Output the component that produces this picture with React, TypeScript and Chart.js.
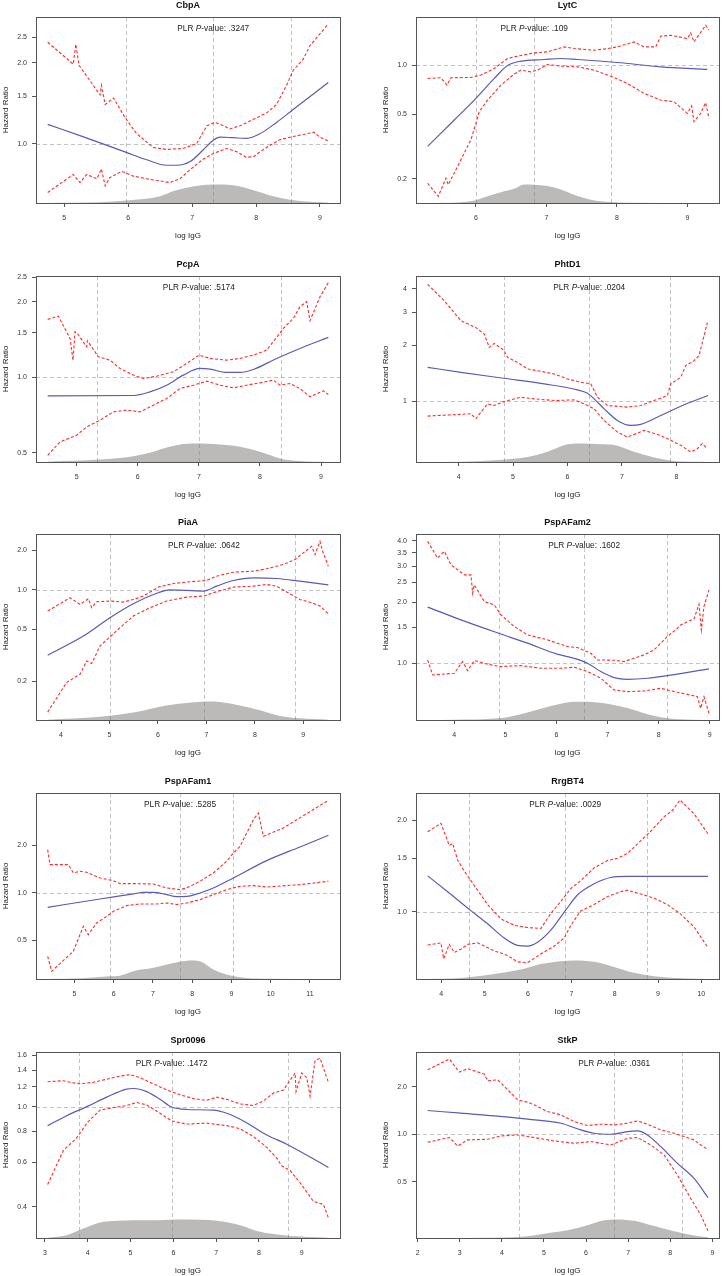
import { useEffect, useRef } from 'react';
import { Chart, registerables } from 'chart.js';

Chart.register(...registerables);

type Pt = [number, number];

const FAMILY = '"Liberation Sans", Arial, Helvetica, sans-serif';

// ---------- shared labels ----------
const panelNames = ['CbpA', 'LytC', 'PcpA', 'PhtD1', 'PiaA', 'PspAFam2', 'PspAFam1', 'RrgBT4', 'Spr0096', 'StkP'];
const pValues = ['.3247', '.109', '.5174', '.0204', '.0642', '.1602', '.5285', '.0029', '.1472', '.0361'];
const xTitle = 'log IgG';
const yTitle = 'Hazard Ratio';

// ---------- CbpA ----------
const cbpaXRange: Pt = [4.557, 9.313];
const cbpaYRange: Pt = [0.6225, 2.97];
const cbpaXTicks = [5, 6, 7, 8, 9];
const cbpaYTicks = [1.0, 1.5, 2.0, 2.5];
const cbpaRef = [5.966, 7.33, 8.54];
const cbpaFit: Pt[] = [[4.74, 1.18], [5.3, 1.06], [5.98, 0.925], [6.29, 0.87], [6.6, 0.83], [6.76, 0.83], [6.97, 0.857], [7.17, 0.946], [7.33, 1.03], [7.44, 1.057], [7.64, 1.052], [7.85, 1.046], [8.06, 1.088], [8.32, 1.2], [8.58, 1.34], [9.13, 1.69]];
const cbpaUpper: Pt[] = [[4.74, 2.39], [5.14, 1.98], [5.18, 2.35], [5.23, 1.96], [5.56, 1.52], [5.58, 1.65], [5.64, 1.4], [5.77, 1.48], [5.95, 1.25], [6.13, 1.09], [6.39, 0.967], [6.6, 0.951], [6.86, 0.959], [7.07, 1.0], [7.23, 1.166], [7.36, 1.2], [7.49, 1.166], [7.59, 1.134], [7.75, 1.166], [7.96, 1.233], [8.17, 1.304], [8.32, 1.4], [8.48, 1.655], [8.58, 1.876], [8.74, 2.07], [8.84, 2.315], [9.13, 2.8]];
const cbpaLower: Pt[] = [[4.74, 0.657], [5.14, 0.767], [5.245, 0.715], [5.35, 0.767], [5.51, 0.739], [5.58, 0.804], [5.64, 0.695], [5.71, 0.746], [5.9, 0.788], [6.08, 0.756], [6.29, 0.739], [6.5, 0.725], [6.65, 0.715], [6.81, 0.739], [6.97, 0.8], [7.17, 0.874], [7.33, 0.919], [7.54, 0.959], [7.7, 0.932], [7.85, 0.889], [7.96, 0.894], [8.06, 0.932], [8.22, 0.986], [8.37, 1.034], [8.58, 1.063], [8.74, 1.081], [8.9, 1.103], [9.0, 1.057], [9.13, 1.023]];
const cbpaDens: Pt[] = [[4.74, 0], [5.56, 0.04], [5.98, 0.13], [6.5, 0.36], [6.71, 0.64], [6.91, 0.82], [7.33, 1.0], [7.64, 0.96], [7.96, 0.69], [8.27, 0.36], [8.53, 0.18], [8.9, 0.05], [9.13, 0.02]];

// ---------- LytC ----------
const lytcXRange: Pt = [5.15, 9.449];
const lytcYRange: Pt = [0.142, 1.99];
const lytcXTicks = [6, 7, 8, 9];
const lytcYTicks = [0.2, 0.5, 1.0];
const lytcRef = [6.0, 6.827, 7.923];
const lytcFit: Pt[] = [[5.315, 0.317], [5.693, 0.461], [6.0, 0.627], [6.26, 0.832], [6.449, 1.0], [6.638, 1.063], [6.968, 1.089], [7.205, 1.104], [7.441, 1.089], [8.008, 1.043], [8.622, 0.981], [9.283, 0.945]];
const lytcUpper: Pt[] = [[5.315, 0.832], [5.504, 0.84], [5.589, 0.757], [5.646, 0.84], [5.929, 0.844], [6.0, 0.86], [6.071, 0.873], [6.26, 0.958], [6.449, 1.104], [6.59, 1.141], [6.827, 1.196], [7.016, 1.213], [7.252, 1.302], [7.393, 1.272], [7.677, 1.242], [7.866, 1.272], [8.008, 1.302], [8.244, 1.397], [8.385, 1.302], [8.551, 1.302], [8.622, 1.514], [8.763, 1.536], [9.0, 1.465], [9.047, 1.588], [9.094, 1.397], [9.259, 1.769], [9.307, 1.648]];
const lytcLower: Pt[] = [[5.315, 0.188], [5.466, 0.156], [5.575, 0.202], [5.608, 0.184], [5.787, 0.262], [5.929, 0.348], [6.0, 0.44], [6.047, 0.519], [6.165, 0.612], [6.354, 0.757], [6.543, 0.885], [6.638, 0.936], [6.779, 0.914], [6.874, 0.936], [7.016, 1.014], [7.205, 0.991], [7.441, 0.981], [7.677, 0.936], [7.96, 0.844], [8.149, 0.775], [8.385, 0.673], [8.622, 0.612], [8.811, 0.598], [9.0, 0.507], [9.061, 0.563], [9.094, 0.451], [9.189, 0.507], [9.259, 0.59], [9.307, 0.472]];
const lytcDens: Pt[] = [[5.315, 0], [5.787, 0.04], [6.0, 0.15], [6.165, 0.36], [6.354, 0.58], [6.543, 0.76], [6.685, 1.0], [6.827, 0.98], [7.016, 0.91], [7.205, 0.73], [7.393, 0.45], [7.63, 0.18], [7.913, 0.05], [8.149, 0.02], [9.283, 0]];

// ---------- PcpA ----------
const pcpaXRange: Pt = [4.334, 9.311];
const pcpaYRange: Pt = [0.459, 2.53];
const pcpaXTicks = [5, 6, 7, 8, 9];
const pcpaYTicks = [0.5, 1.0, 1.5, 2.0, 2.5];
const pcpaRef = [5.338, 7.0, 8.345];
const pcpaFit: Pt[] = [[4.525, 0.842], [5.928, 0.845], [6.2, 0.874], [6.473, 0.929], [6.746, 1.019], [7.019, 1.083], [7.183, 1.076], [7.456, 1.044], [7.674, 1.044], [7.892, 1.073], [8.274, 1.187], [8.656, 1.301], [9.12, 1.44]];
const pcpaUpper: Pt[] = [[4.525, 1.699], [4.7, 1.751], [4.891, 1.427], [4.94, 1.169], [4.973, 1.517], [5.011, 1.493], [5.164, 1.321], [5.175, 1.397], [5.355, 1.206], [5.546, 1.169], [5.709, 1.083], [5.928, 1.019], [6.091, 0.988], [6.31, 1.009], [6.583, 1.05], [6.801, 1.134], [7.003, 1.224], [7.183, 1.187], [7.456, 1.169], [7.674, 1.187], [7.892, 1.224], [8.11, 1.282], [8.274, 1.44], [8.383, 1.564], [8.547, 1.714], [8.656, 1.909], [8.765, 2.0], [8.82, 1.679], [8.984, 2.093], [9.12, 2.379]];
const pcpaLower: Pt[] = [[4.525, 0.488], [4.727, 0.552], [5.0, 0.587], [5.164, 0.634], [5.382, 0.674], [5.6, 0.727], [5.819, 0.739], [6.037, 0.727], [6.255, 0.773], [6.473, 0.822], [6.692, 0.901], [6.91, 0.929], [7.128, 0.964], [7.347, 0.929], [7.565, 0.906], [7.783, 0.929], [8.001, 0.949], [8.22, 0.973], [8.329, 0.929], [8.493, 0.943], [8.656, 0.901], [8.82, 0.835], [9.038, 0.882], [9.12, 0.853]];
const pcpaDens: Pt[] = [[4.525, 0.02], [5.382, 0.13], [5.928, 0.31], [6.255, 0.55], [6.473, 0.78], [6.801, 0.98], [7.019, 1.0], [7.456, 0.91], [7.674, 0.82], [8.001, 0.55], [8.345, 0.18], [8.656, 0.05], [9.12, 0]];

// ---------- PhtD1 ----------
const phtXRange: Pt = [3.217, 8.783];
const phtYRange: Pt = [0.472, 4.69];
const phtXTicks = [4, 5, 6, 7, 8];
const phtYTicks = [1, 2, 3, 4];
const phtRef = [4.826, 6.398, 7.878];
const phtFit: Pt[] = [[3.431, 1.519], [4.043, 1.428], [4.826, 1.327], [5.572, 1.238], [6.183, 1.15], [6.367, 1.103], [6.489, 1.029], [6.673, 0.91], [6.917, 0.788], [7.162, 0.741], [7.346, 0.751], [7.713, 0.838], [8.08, 0.94], [8.581, 1.072]];
const phtUpper: Pt[] = [[3.431, 4.23], [3.737, 3.45], [4.043, 2.7], [4.318, 2.48], [4.471, 2.29], [4.563, 1.943], [4.654, 2.04], [4.826, 1.88], [4.899, 1.717], [5.083, 1.615], [5.266, 1.488], [5.511, 1.446], [5.755, 1.399], [6.0, 1.316], [6.245, 1.263], [6.428, 1.238], [6.55, 1.05], [6.734, 0.948], [7.101, 0.929], [7.346, 0.948], [7.59, 1.008], [7.835, 1.072], [7.896, 1.238], [8.08, 1.343], [8.171, 1.551], [8.324, 1.649], [8.416, 1.754], [8.569, 2.64]];
const phtLower: Pt[] = [[3.431, 0.832], [4.226, 0.856], [4.318, 0.805], [4.41, 0.874], [4.532, 0.968], [4.654, 0.948], [4.838, 0.996], [5.144, 1.05], [5.388, 1.029], [5.755, 1.008], [6.122, 1.016], [6.306, 0.968], [6.489, 0.91], [6.673, 0.788], [6.917, 0.683], [7.101, 0.642], [7.407, 0.697], [7.713, 0.655], [7.896, 0.617], [8.08, 0.58], [8.263, 0.534], [8.385, 0.556], [8.477, 0.592], [8.569, 0.556]];
const phtDens: Pt[] = [[3.431, 0], [4.043, 0.01], [4.654, 0.09], [5.266, 0.27], [5.633, 0.55], [6.0, 0.95], [6.245, 1.0], [6.612, 0.95], [6.856, 0.91], [7.223, 0.55], [7.59, 0.24], [7.957, 0.05], [8.324, 0.01], [8.581, 0]];

// ---------- PiaA ----------
const piaXRange: Pt = [3.484, 9.757];
const piaYRange: Pt = [0.101, 2.67];
const piaXTicks = [4, 5, 6, 7, 8, 9];
const piaYTicks = [0.2, 0.5, 1.0, 2.0];
const piaRef = [5.011, 6.95, 8.828];
const piaFit: Pt[] = [[3.725, 0.316], [4.461, 0.443], [5.011, 0.612], [5.492, 0.782], [6.008, 0.949], [6.249, 1.0], [6.593, 0.988], [6.937, 0.977], [7.212, 1.066], [7.556, 1.178], [7.968, 1.234], [8.45, 1.22], [8.931, 1.164], [9.516, 1.092]];
const piaUpper: Pt[] = [[3.725, 0.688], [4.186, 0.869], [4.392, 0.773], [4.564, 0.854], [4.633, 0.729], [4.736, 0.81], [5.011, 0.82], [5.286, 0.805], [5.492, 0.844], [5.699, 0.895], [6.008, 1.048], [6.318, 1.117], [6.662, 1.151], [7.005, 1.178], [7.212, 1.271], [7.556, 1.363], [7.968, 1.388], [8.243, 1.446], [8.587, 1.56], [8.828, 1.702], [8.999, 1.913], [9.172, 2.151], [9.241, 1.859], [9.344, 2.349], [9.399, 1.97], [9.516, 1.515]];
const piaLower: Pt[] = [[3.725, 0.116], [4.117, 0.196], [4.392, 0.226], [4.53, 0.286], [4.633, 0.273], [4.805, 0.372], [5.011, 0.436], [5.217, 0.513], [5.492, 0.63], [5.836, 0.729], [6.18, 0.82], [6.593, 0.879], [6.937, 0.895], [7.212, 0.966], [7.556, 1.048], [7.968, 1.066], [8.243, 1.098], [8.45, 1.066], [8.725, 0.932], [8.931, 0.844], [9.172, 0.796], [9.344, 0.751], [9.516, 0.656]];
const piaDens: Pt[] = [[3.725, 0.02], [4.805, 0.17], [5.492, 0.4], [6.18, 0.78], [6.593, 0.91], [7.005, 1.0], [7.281, 0.97], [7.693, 0.78], [8.106, 0.52], [8.519, 0.22], [8.931, 0.09], [9.516, 0.02]];

// ---------- PspAFam2 ----------
const pf2XRange: Pt = [3.25, 9.183];
const pf2YRange: Pt = [0.526, 4.32];
const pf2XTicks = [4, 5, 6, 7, 8, 9];
const pf2YTicks = [1.0, 1.5, 2.0, 2.5, 3.0, 3.5, 4.0];
const pf2Ref = [4.867, 6.542, 8.172];
const pf2Fit: Pt[] = [[3.478, 1.888], [4.13, 1.635], [4.867, 1.405], [5.434, 1.255], [6.001, 1.112], [6.347, 1.058], [6.608, 1.0], [6.868, 0.91], [7.129, 0.85], [7.39, 0.834], [7.781, 0.844], [8.172, 0.869], [8.987, 0.938]];
const pf2Upper: Pt[] = [[3.478, 3.975], [3.674, 3.29], [3.804, 3.55], [3.935, 3.05], [4.196, 2.72], [4.326, 2.72], [4.359, 2.21], [4.391, 2.43], [4.587, 2.01], [4.782, 1.938], [4.913, 1.73], [5.173, 1.516], [5.434, 1.379], [5.825, 1.303], [6.216, 1.208], [6.412, 1.194], [6.673, 1.12], [6.803, 1.038], [7.129, 1.035], [7.325, 1.019], [7.455, 1.046], [7.716, 1.099], [7.911, 1.163], [8.042, 1.255], [8.172, 1.353], [8.335, 1.459], [8.433, 1.544], [8.694, 1.654], [8.791, 1.952], [8.837, 1.459], [8.889, 1.902], [8.987, 2.297]];
const pf2Lower: Pt[] = [[3.478, 1.038], [3.576, 0.876], [4.0, 0.893], [4.163, 1.019], [4.261, 0.92], [4.391, 1.031], [4.652, 0.989], [4.913, 0.963], [5.304, 0.974], [5.695, 0.945], [6.086, 0.945], [6.347, 0.956], [6.608, 0.91], [6.868, 0.844], [7.129, 0.739], [7.39, 0.725], [7.716, 0.731], [8.042, 0.753], [8.368, 0.72], [8.628, 0.698], [8.759, 0.685], [8.824, 0.6], [8.889, 0.685], [8.987, 0.567]];
const pf2Dens: Pt[] = [[3.478, 0], [4.0, 0.01], [4.867, 0.09], [5.304, 0.31], [5.695, 0.6], [6.086, 0.87], [6.347, 0.98], [6.608, 0.98], [6.999, 0.87], [7.39, 0.64], [7.781, 0.31], [8.172, 0.09], [8.694, 0.01], [8.987, 0]];

// ---------- PspAFam1 ----------
const pf1XRange: Pt = [4.024, 11.764];
const pf1YRange: Pt = [0.285, 4.3];
const pf1XTicks = [5, 6, 7, 8, 9, 10, 11];
const pf1YTicks = [0.5, 1.0, 2.0];
const pf1Ref = [5.908, 7.691, 9.049];
const pf1Fit: Pt[] = [[4.321, 0.811], [5.654, 0.916], [6.503, 0.986], [6.757, 1.01], [7.012, 1.01], [7.351, 0.976], [7.606, 0.948], [7.861, 0.952], [8.2, 1.0], [8.54, 1.076], [9.049, 1.245], [9.898, 1.603], [10.747, 1.957], [11.469, 2.32]];
const pf1Upper: Pt[] = [[4.321, 1.881], [4.38, 1.512], [4.847, 1.512], [4.975, 1.339], [5.144, 1.373], [5.314, 1.352], [5.654, 1.245], [5.993, 1.197], [6.163, 1.146], [6.503, 1.146], [7.012, 1.14], [7.351, 1.076], [7.691, 1.05], [7.861, 1.076], [8.2, 1.186], [8.54, 1.339], [8.879, 1.587], [9.049, 1.793], [9.219, 1.976], [9.389, 2.4], [9.559, 2.915], [9.686, 3.21], [9.813, 2.287], [10.323, 2.582], [11.469, 3.865]];
const pf1Lower: Pt[] = [[4.321, 0.397], [4.423, 0.319], [4.975, 0.427], [5.229, 0.615], [5.357, 0.544], [5.569, 0.646], [5.823, 0.711], [5.993, 0.765], [6.333, 0.831], [6.672, 0.852], [7.097, 0.852], [7.351, 0.864], [7.606, 0.844], [7.861, 0.864], [8.2, 0.907], [8.54, 0.976], [8.879, 1.05], [9.219, 1.102], [9.559, 1.113], [9.898, 1.091], [10.747, 1.129], [11.469, 1.186]];
const pf1Dens: Pt[] = [[4.321, 0], [5.229, 0.04], [5.908, 0.15], [6.163, 0.18], [6.503, 0.42], [7.012, 0.6], [7.351, 0.78], [7.691, 0.93], [7.988, 1.0], [8.2, 0.95], [8.54, 0.51], [8.879, 0.24], [9.389, 0.05], [9.898, 0.01], [11.469, 0]];

// ---------- RrgBT4 ----------
const rrgXRange: Pt = [3.416, 10.407];
const rrgYRange: Pt = [0.638, 2.456];
const rrgXTicks = [4, 5, 6, 7, 8, 9, 10];
const rrgYTicks = [1.0, 1.5, 2.0];
const rrgRef = [4.645, 6.857, 8.739];
const rrgFit: Pt[] = [[3.685, 1.311], [4.146, 1.162], [4.645, 1.017], [5.068, 0.912], [5.452, 0.818], [5.759, 0.774], [5.989, 0.77], [6.22, 0.793], [6.527, 0.869], [6.857, 1.005], [7.141, 1.134], [7.525, 1.234], [7.909, 1.295], [8.293, 1.305], [9.061, 1.305], [10.152, 1.305]];
const rrgUpper: Pt[] = [[3.685, 1.83], [3.992, 1.953], [4.184, 1.649], [4.261, 1.677], [4.376, 1.479], [4.53, 1.359], [4.607, 1.311], [4.76, 1.219], [5.068, 1.054], [5.375, 0.946], [5.682, 0.901], [5.989, 0.886], [6.296, 0.88], [6.527, 0.986], [6.757, 1.08], [6.988, 1.19], [7.218, 1.264], [7.525, 1.392], [7.833, 1.472], [8.063, 1.497], [8.293, 1.552], [8.601, 1.71], [8.831, 1.838], [9.138, 2.05], [9.33, 2.15], [9.507, 2.33], [9.829, 2.1], [10.152, 1.803]];
const rrgLower: Pt[] = [[3.685, 0.776], [3.992, 0.789], [4.054, 0.699], [4.184, 0.78], [4.3, 0.734], [4.453, 0.752], [4.607, 0.78], [4.837, 0.789], [5.221, 0.743], [5.528, 0.717], [5.759, 0.683], [5.989, 0.679], [6.296, 0.725], [6.604, 0.77], [6.834, 0.818], [6.988, 0.901], [7.218, 1.005], [7.525, 1.055], [7.833, 1.12], [8.14, 1.162], [8.293, 1.176], [8.677, 1.134], [8.908, 1.107], [9.215, 1.055], [9.522, 0.981], [9.829, 0.891], [10.152, 0.761]];
const rrgDens: Pt[] = [[3.685, 0], [4.453, 0.05], [5.221, 0.27], [5.836, 0.51], [6.296, 0.8], [6.757, 0.95], [7.065, 1.0], [7.525, 0.93], [7.986, 0.65], [8.447, 0.33], [8.908, 0.15], [9.522, 0.04], [10.152, 0]];

// ---------- Spr0096 ----------
const sprXRange: Pt = [2.79, 9.896];
const sprYRange: Pt = [0.341, 1.652];
const sprXTicks = [3, 4, 5, 6, 7, 8, 9];
const sprYTicks = [0.4, 0.6, 0.8, 1.0, 1.2, 1.4, 1.6];
const sprRef = [3.803, 5.962, 8.674];
const sprFit: Pt[] = [[3.062, 0.841], [3.507, 0.921], [3.99, 1.003], [4.442, 1.092], [4.91, 1.176], [5.065, 1.182], [5.377, 1.149], [5.689, 1.07], [5.962, 0.997], [6.313, 0.975], [6.936, 0.969], [7.248, 0.942], [7.638, 0.878], [8.183, 0.772], [8.651, 0.709], [9.625, 0.573]];
const sprUpper: Pt[] = [[3.062, 1.258], [3.429, 1.269], [3.585, 1.251], [3.818, 1.234], [4.13, 1.251], [4.442, 1.287], [4.754, 1.325], [4.988, 1.343], [5.221, 1.306], [5.533, 1.234], [5.845, 1.166], [6.157, 1.117], [6.468, 1.077], [6.78, 1.061], [7.014, 1.092], [7.248, 1.07], [7.56, 1.026], [7.871, 1.011], [8.105, 1.055], [8.339, 1.133], [8.573, 1.166], [8.846, 1.363], [8.869, 1.149], [9.002, 1.363], [9.119, 1.306], [9.196, 1.101], [9.313, 1.526], [9.43, 1.561], [9.625, 1.251]];
const sprLower: Pt[] = [[3.062, 0.49], [3.429, 0.67], [3.74, 0.751], [3.99, 0.865], [4.286, 0.969], [4.598, 0.992], [4.91, 1.011], [5.143, 1.04], [5.377, 1.017], [5.689, 0.942], [5.962, 0.878], [6.313, 0.853], [6.78, 0.86], [7.248, 0.841], [7.56, 0.818], [7.871, 0.761], [8.183, 0.689], [8.417, 0.624], [8.534, 0.582], [8.729, 0.557], [8.963, 0.498], [9.274, 0.42], [9.508, 0.408], [9.625, 0.361]];
const sprDens: Pt[] = [[3.062, 0.02], [3.507, 0.15], [3.896, 0.51], [4.286, 0.84], [4.676, 0.93], [5.455, 0.95], [6.079, 1.0], [6.624, 0.98], [7.014, 0.93], [7.56, 0.69], [8.027, 0.33], [8.573, 0.15], [9.352, 0.04], [9.625, 0.02]];

// ---------- StkP ----------
const stkXRange: Pt = [1.96, 9.158];
const stkYRange: Pt = [0.221, 3.31];
const stkXTicks = [2, 3, 4, 5, 6, 7, 8, 9];
const stkYTicks = [0.5, 1.0, 2.0];
const stkRef = [4.397, 6.668, 8.274];
const stkFit: Pt[] = [[2.237, 1.413], [3.028, 1.359], [3.82, 1.307], [4.611, 1.245], [5.402, 1.174], [5.877, 1.065], [6.193, 1.015], [6.589, 1.0], [6.984, 1.04], [7.222, 1.05], [7.459, 0.99], [7.775, 0.835], [8.171, 0.655], [8.566, 0.526], [8.899, 0.397]];
const stkUpper: Pt[] = [[2.237, 2.556], [2.752, 2.988], [2.989, 2.47], [3.187, 2.595], [3.582, 2.401], [3.661, 2.178], [3.899, 2.21], [4.136, 1.911], [4.373, 1.651], [4.611, 1.595], [4.769, 1.534], [5.085, 1.392], [5.402, 1.326], [5.718, 1.203], [6.035, 1.135], [6.351, 1.157], [6.668, 1.146], [6.984, 1.174], [7.222, 1.215], [7.459, 1.157], [7.775, 1.065], [8.092, 1.015], [8.329, 0.967], [8.566, 0.921], [8.725, 0.856], [8.899, 0.8]];
const stkLower: Pt[] = [[2.237, 0.89], [2.752, 0.953], [2.949, 0.843], [3.187, 0.921], [3.661, 0.93], [3.978, 0.976], [4.373, 0.99], [4.769, 0.953], [5.244, 0.907], [5.718, 0.877], [6.114, 0.899], [6.589, 0.856], [6.984, 0.943], [7.222, 0.953], [7.538, 0.856], [7.854, 0.74], [8.171, 0.552], [8.487, 0.393], [8.725, 0.309], [8.899, 0.244]];
const stkDens: Pt[] = [[2.237, 0], [3.82, 0.02], [4.397, 0.05], [5.006, 0.23], [5.56, 0.41], [6.035, 0.68], [6.43, 0.95], [6.668, 1.0], [7.142, 0.93], [7.617, 0.64], [8.092, 0.36], [8.566, 0.14], [8.899, 0.04]];

interface PanelSpec {
  xRange: Pt; yRange: Pt; xTicks: number[]; yTicks: number[]; intLabels: boolean;
  refX: number[]; fit: Pt[]; upper: Pt[]; lower: Pt[]; dens: Pt[];
}

const panels: PanelSpec[] = [
  { xRange: cbpaXRange, yRange: cbpaYRange, xTicks: cbpaXTicks, yTicks: cbpaYTicks, intLabels: false, refX: cbpaRef, fit: cbpaFit, upper: cbpaUpper, lower: cbpaLower, dens: cbpaDens },
  { xRange: lytcXRange, yRange: lytcYRange, xTicks: lytcXTicks, yTicks: lytcYTicks, intLabels: false, refX: lytcRef, fit: lytcFit, upper: lytcUpper, lower: lytcLower, dens: lytcDens },
  { xRange: pcpaXRange, yRange: pcpaYRange, xTicks: pcpaXTicks, yTicks: pcpaYTicks, intLabels: false, refX: pcpaRef, fit: pcpaFit, upper: pcpaUpper, lower: pcpaLower, dens: pcpaDens },
  { xRange: phtXRange, yRange: phtYRange, xTicks: phtXTicks, yTicks: phtYTicks, intLabels: true, refX: phtRef, fit: phtFit, upper: phtUpper, lower: phtLower, dens: phtDens },
  { xRange: piaXRange, yRange: piaYRange, xTicks: piaXTicks, yTicks: piaYTicks, intLabels: false, refX: piaRef, fit: piaFit, upper: piaUpper, lower: piaLower, dens: piaDens },
  { xRange: pf2XRange, yRange: pf2YRange, xTicks: pf2XTicks, yTicks: pf2YTicks, intLabels: false, refX: pf2Ref, fit: pf2Fit, upper: pf2Upper, lower: pf2Lower, dens: pf2Dens },
  { xRange: pf1XRange, yRange: pf1YRange, xTicks: pf1XTicks, yTicks: pf1YTicks, intLabels: false, refX: pf1Ref, fit: pf1Fit, upper: pf1Upper, lower: pf1Lower, dens: pf1Dens },
  { xRange: rrgXRange, yRange: rrgYRange, xTicks: rrgXTicks, yTicks: rrgYTicks, intLabels: false, refX: rrgRef, fit: rrgFit, upper: rrgUpper, lower: rrgLower, dens: rrgDens },
  { xRange: sprXRange, yRange: sprYRange, xTicks: sprXTicks, yTicks: sprYTicks, intLabels: false, refX: sprRef, fit: sprFit, upper: sprUpper, lower: sprLower, dens: sprDens },
  { xRange: stkXRange, yRange: stkYRange, xTicks: stkXTicks, yTicks: stkYTicks, intLabels: false, refX: stkRef, fit: stkFit, upper: stkUpper, lower: stkLower, dens: stkDens },
];

// ---------- layout ----------
const PANEL_W = 361;
const CANVAS_H = 248;
const TOP_PAD = 17;
const X_AXIS_H = 45;
const FRAME_TOPS = [17, 276, 534, 793, 1052];
const FRAME_LEFT = [36, 55];
const RIGHT_PAD = [21, 3];
const YTITLE_PAD = [0.7, 19.7];

const BLUE = '#5a5ab4';
const RED = 'rgba(255,20,20,0.9)';
const DENS = 'rgb(188,186,184)';
const FRAME = '#555555';
const REFLINE = 'rgba(120,120,120,0.45)';

const toXY = (pts: Pt[]) => pts.map(([x, y]) => ({ x, y }));

function Panel({ index }: { index: number }) {
  const ref = useRef<HTMLCanvasElement | null>(null);
  const spec = panels[index];
  const col = index % 2;
  const row = Math.floor(index / 2);
  const left = col * PANEL_W;
  const top = FRAME_TOPS[row] - TOP_PAD;

  useEffect(() => {
    const canvas = ref.current;
    if (!canvas) return;

    const overlay = {
      id: 'overlay' + index,
      afterDatasetDraw(chart: any, args: any) {
        if (args.index !== 3) return;
        const { ctx, chartArea } = chart;
        const xs = chart.scales.x;
        const ys = chart.scales.y;
        ctx.save();
        ctx.strokeStyle = REFLINE;
        ctx.lineWidth = 1;
        ctx.setLineDash([4, 3]);
        for (const v of spec.refX) {
          const px = Math.round(xs.getPixelForValue(v)) + 0.5;
          ctx.beginPath();
          ctx.moveTo(px, chartArea.top);
          ctx.lineTo(px, chartArea.bottom);
          ctx.stroke();
        }
        const py = Math.round(ys.getPixelForValue(1)) + 0.5;
        ctx.beginPath();
        ctx.moveTo(chartArea.left, py);
        ctx.lineTo(chartArea.right, py);
        ctx.stroke();
        ctx.restore();
      },
      afterDraw(chart: any) {
        const { ctx, chartArea } = chart;
        const xs = chart.scales.x;
        ctx.save();
        // frame
        ctx.strokeStyle = FRAME;
        ctx.lineWidth = 1;
        ctx.setLineDash([]);
        ctx.strokeRect(chartArea.left + 0.5, chartArea.top + 0.5, chartArea.right - chartArea.left, chartArea.bottom - chartArea.top);
        // title
        ctx.fillStyle = '#111';
        ctx.font = `bold 9px ${FAMILY}`;
        ctx.textAlign = 'center';
        ctx.textBaseline = 'middle';
        ctx.fillText(panelNames[index], (chartArea.left + chartArea.right) / 2, chartArea.top - 11);
        // p-value text
        const parts: [string, boolean][] = [['PLR ', false], ['P', true], ['-value: ' + pValues[index], false]];
        const fontFor = (it: boolean) => `${it ? 'italic ' : ''}8.3px ${FAMILY}`;
        let total = 0;
        const widths = parts.map(([t, it]) => {
          ctx.font = fontFor(it);
          const w = ctx.measureText(t).width;
          total += w;
          return w;
        });
        let x = xs.getPixelForValue(spec.refX[1]) - total / 2;
        const y = chartArea.top + 12;
        ctx.textAlign = 'left';
        ctx.fillStyle = '#222';
        parts.forEach(([t, it], i) => {
          ctx.font = fontFor(it);
          ctx.fillText(t, x, y);
          x += widths[i];
        });
        ctx.restore();
      },
    };

    const chart = new Chart(canvas, {
      type: 'line',
      data: {
        datasets: [
          { data: toXY(spec.fit), borderColor: BLUE, borderWidth: 1.2, pointRadius: 0, cubicInterpolationMode: 'monotone', fill: false, yAxisID: 'y' },
          { data: toXY(spec.upper), borderColor: RED, borderWidth: 1.1, borderDash: [3, 2], pointRadius: 0, tension: 0, fill: false, yAxisID: 'y' },
          { data: toXY(spec.lower), borderColor: RED, borderWidth: 1.1, borderDash: [3, 2], pointRadius: 0, tension: 0, fill: false, yAxisID: 'y' },
          { data: toXY(spec.dens), borderColor: DENS, backgroundColor: DENS, borderWidth: 0, pointRadius: 0, cubicInterpolationMode: 'monotone', fill: 'origin', yAxisID: 'y2' },
        ],
      } as any,
      options: {
        responsive: false,
        animation: false,
        events: [],
        layout: { padding: { top: TOP_PAD, left: 0, right: RIGHT_PAD[col], bottom: 0 } },
        plugins: { legend: { display: false }, tooltip: { enabled: false }, title: { display: false } },
        scales: {
          x: {
            type: 'linear',
            min: spec.xRange[0],
            max: spec.xRange[1],
            afterBuildTicks: (s: any) => { s.ticks = spec.xTicks.map((v) => ({ value: v })); },
            afterFit: (s: any) => { s.height = X_AXIS_H; },
            ticks: { autoSkip: false, maxRotation: 0, padding: 7, color: '#333', font: { size: 7, family: FAMILY }, callback: (v: any) => String(v) },
            grid: { drawOnChartArea: false, drawTicks: true, tickLength: 4, tickColor: FRAME, color: FRAME },
            border: { display: false },
            title: { display: true, text: xTitle, color: '#222', font: { size: 8, family: FAMILY }, padding: { top: 0, bottom: 7.2 } },
          },
          y: {
            type: 'logarithmic',
            min: spec.yRange[0],
            max: spec.yRange[1],
            afterBuildTicks: (s: any) => { s.ticks = spec.yTicks.map((v) => ({ value: v })); },
            afterFit: (s: any) => { s.width = FRAME_LEFT[col]; },
            ticks: { autoSkip: false, padding: 5, color: '#333', font: { size: 7, family: FAMILY }, callback: (v: any) => (spec.intLabels ? String(Math.round(Number(v))) : Number(v).toFixed(1)) },
            grid: { drawOnChartArea: false, drawTicks: true, tickLength: 4, tickColor: FRAME, color: FRAME },
            border: { display: false },
            title: { display: true, text: yTitle, color: '#222', font: { size: 8, family: FAMILY }, padding: { top: YTITLE_PAD[col], bottom: 0 } },
          },
          y2: { type: 'linear', display: false, min: 0, max: 10 },
        },
      } as any,
      plugins: [overlay],
    });
    return () => chart.destroy();
  }, [index]);

  return (
    <canvas
      ref={ref}
      width={PANEL_W}
      height={CANVAS_H}
      style={{ position: 'absolute', left, top, width: PANEL_W, height: CANVAS_H }}
    />
  );
}

export default function App() {
  return (
    <div style={{ position: 'absolute', left: 0, top: 0, width: 722, height: 1276, overflow: 'hidden', background: '#ffffff' }}>
      {panels.map((_, i) => (
        <Panel key={panelNames[i]} index={i} />
      ))}
    </div>
  );
}
